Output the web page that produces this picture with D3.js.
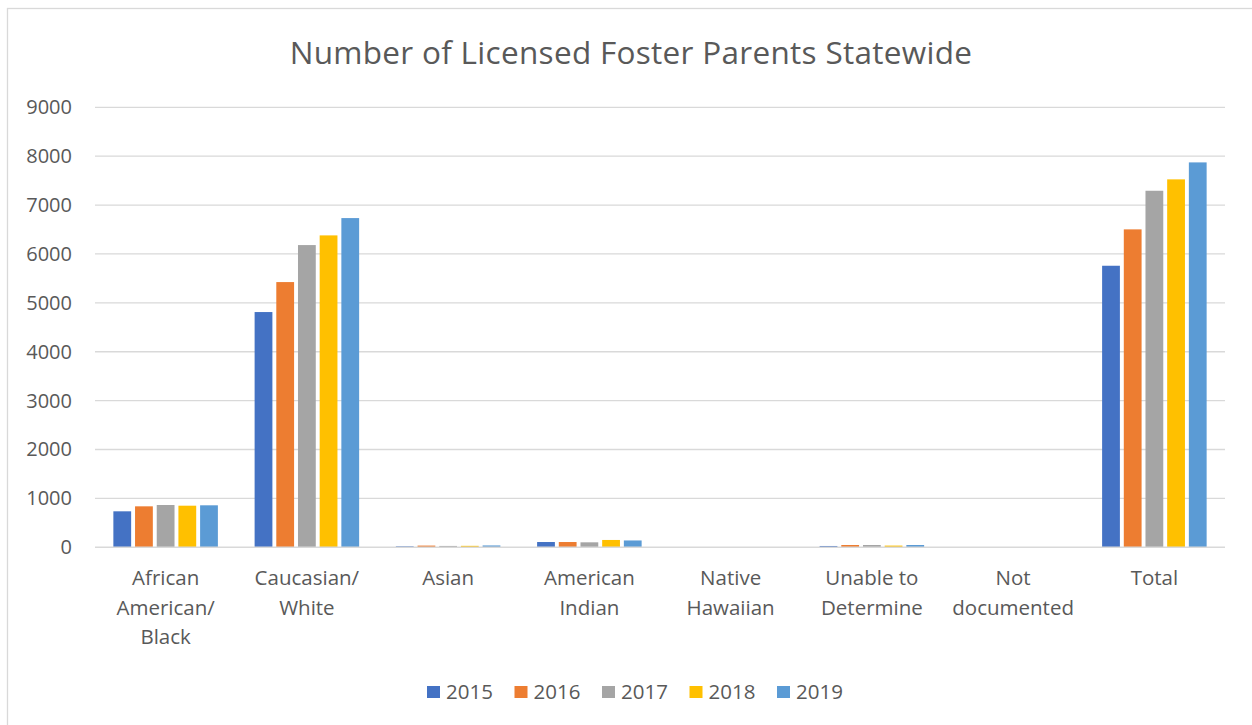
<!DOCTYPE html>
<html>
<head>
<meta charset="utf-8">
<script src="https://cdn.jsdelivr.net/npm/d3@7"></script>
<style>
  html, body { margin: 0; padding: 0; background: #fff; }
  svg { display: block; }
  text { font-family: "Open Sans", "Noto Sans", sans-serif; fill: #595959; }
</style>
</head>
<body>
<svg id="chart" width="1252" height="725"></svg>
<script>
// Race / ethnicity groups shown along the x axis
const categories = [
  "African American/ Black",
  "Caucasian/ White",
  "Asian",
  "American Indian",
  "Native Hawaiian",
  "Unable to Determine",
  "Not documented",
  "Total"
];
// How each category label breaks over lines
const categoryLines = [
  ["African", "American/", "Black"],
  ["Caucasian/", "White"],
  ["Asian"],
  ["American", "Indian"],
  ["Native", "Hawaiian"],
  ["Unable to", "Determine"],
  ["Not", "documented"],
  ["Total"]
];
const years = ["2015", "2016", "2017", "2018", "2019"];
// Licensed foster parents per year, in category order
const values2015 = [736, 4812, 20, 108, 0, 27, 0, 5759];
const values2016 = [838, 5425, 35, 108, 0, 47, 0, 6503];
const values2017 = [865, 6182, 28, 102, 0, 47, 0, 7293];
const values2018 = [851, 6380, 30, 150, 0, 35, 0, 7526];
const values2019 = [859, 6734, 38, 140, 0, 47, 0, 7873];
const seriesValues = [values2015, values2016, values2017, values2018, values2019];
const yTicks = [0, 1000, 2000, 3000, 4000, 5000, 6000, 7000, 8000, 9000];
const colors = ["#4472C4", "#ED7D31", "#A5A5A5", "#FFC000", "#5B9BD5"];

const svg = d3.select("#chart");

// Chart frame
svg.append("rect")
  .attr("x", 7.5).attr("y", 8.5)
  .attr("width", 1260).attr("height", 730)
  .attr("fill", "#fff")
  .attr("stroke", "#d9d9d9").attr("stroke-width", 1.3);

const plot = { left: 95, right: 1225, top: 107.3, bottom: 547.3 };

const y = d3.scaleLinear().domain([0, 9000]).range([plot.bottom, plot.top]);
const x0 = d3.scaleBand().domain(categories).range([plot.left, plot.right]).padding(0);
const groupFrac = 0.74;
const x1 = d3.scaleBand().domain(years)
  .range([0, x0.bandwidth() * groupFrac])
  .paddingInner(0.18).paddingOuter(0);
const groupOffset = x0.bandwidth() * (1 - groupFrac) / 2;

// Title
svg.append("text")
  .attr("x", 631).attr("y", 64)
  .attr("text-anchor", "middle")
  .attr("font-size", 31.5)
  .attr("letter-spacing", 0.3)
  .text("Number of Licensed Foster Parents Statewide");

// Horizontal gridlines
svg.append("g")
  .selectAll("line")
  .data(yTicks.filter(d => d > 0))
  .join("line")
  .attr("x1", plot.left).attr("x2", plot.right)
  .attr("y1", d => y(d)).attr("y2", d => y(d))
  .attr("stroke", "#d9d9d9").attr("stroke-width", 1.3);

// Y axis labels
const yAxis = d3.axisLeft(y).tickValues(yTicks).tickSize(0).tickPadding(0).tickFormat(d3.format("d"));
const yG = svg.append("g").attr("transform", "translate(72,0)").call(yAxis);
yG.select(".domain").remove();
yG.selectAll("text")
  .attr("font-size", 20)
  .attr("font-family", "\"Open Sans\", sans-serif")
  .attr("fill", "#595959");

// Bars
const groups = svg.append("g")
  .selectAll("g")
  .data(categories.map((c, i) => ({ c, i })))
  .join("g")
  .attr("transform", d => `translate(${x0(d.c) + groupOffset},0)`);

groups.selectAll("rect")
  .data(d => years.map((yr, k) => ({ yr, k, v: seriesValues[k][d.i] })))
  .join("rect")
  .attr("x", d => x1(d.yr))
  .attr("width", x1.bandwidth())
  .attr("y", d => y(d.v))
  .attr("height", d => y(0) - y(d.v))
  .attr("fill", d => colors[d.k]);

// Baseline
svg.append("line")
  .attr("x1", plot.left).attr("x2", plot.right)
  .attr("y1", y(0)).attr("y2", y(0))
  .attr("stroke", "#d9d9d9").attr("stroke-width", 1.5);

// Category labels
const catG = svg.append("g");
categories.forEach((c, i) => {
  const t = catG.append("text")
    .attr("x", x0(c) + x0.bandwidth() / 2)
    .attr("y", 585)
    .attr("text-anchor", "middle")
    .attr("font-size", 20.5);
  categoryLines[i].forEach((line, j) => {
    t.append("tspan")
      .attr("x", x0(c) + x0.bandwidth() / 2)
      .attr("y", 585 + j * 29.5)
      .text(line);
  });
});

// Legend
const legend = svg.append("g");
const legendX = d3.scalePoint().domain(years).range([427, 777]);
years.forEach((yr, k) => {
  const g = legend.append("g").attr("transform", `translate(${legendX(yr)},0)`);
  g.append("rect").attr("x", 0).attr("y", 686).attr("width", 13).attr("height", 12).attr("fill", colors[k]);
  g.append("text").attr("x", 19).attr("y", 698.5).attr("font-size", 20.5).text(yr);
});
</script>
</body>
</html>
